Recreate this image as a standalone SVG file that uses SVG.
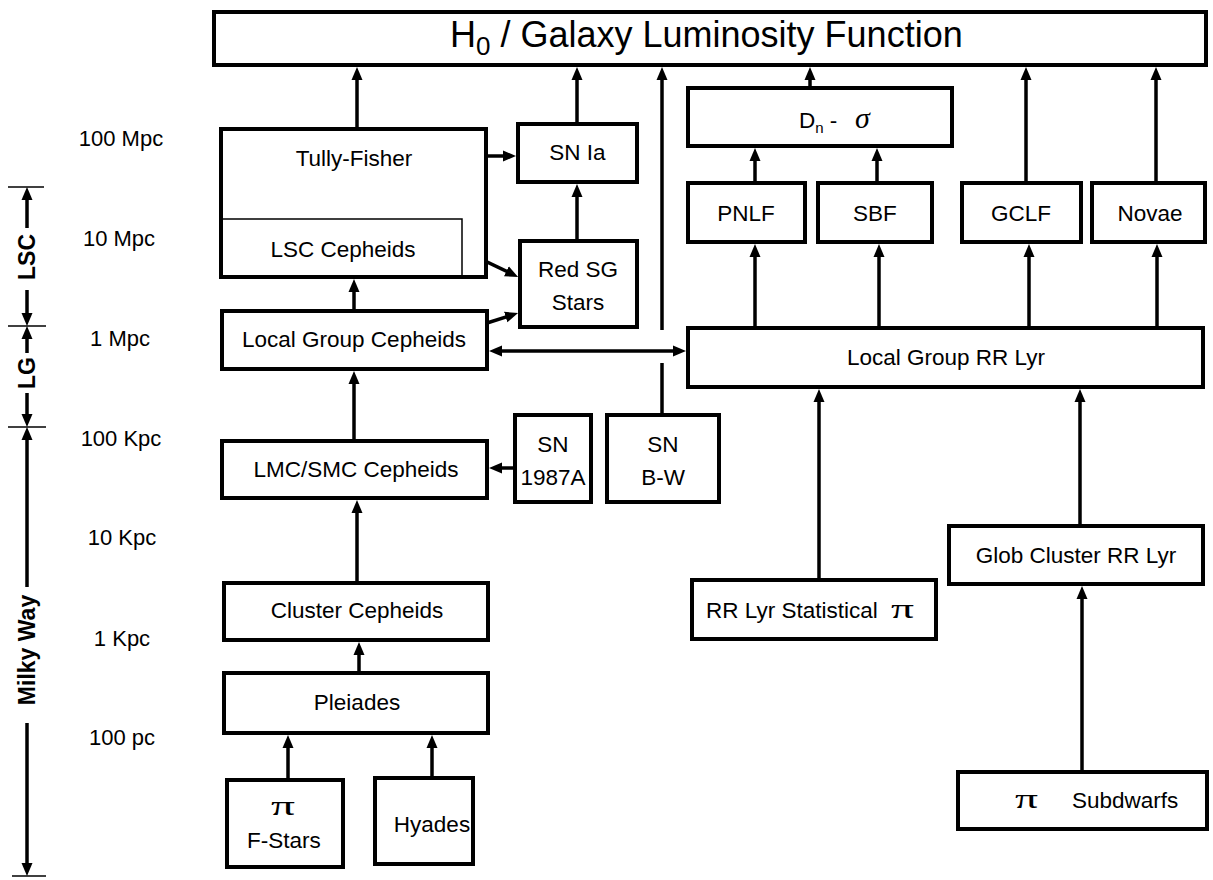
<svg xmlns="http://www.w3.org/2000/svg" width="1213" height="880" viewBox="0 0 1213 880">
<defs>
<style>
.box{fill:#fff;stroke:#000;stroke-width:4}
.thin{fill:none;stroke:#000;stroke-width:1.5}
.t{font-family:"Liberation Sans",Arial,sans-serif;font-size:22.5px;fill:#000;text-anchor:middle}
.ts{font-family:"Liberation Sans",Arial,sans-serif;font-size:22.5px;fill:#000}
.d{font-family:"Liberation Sans",Arial,sans-serif;font-size:22px;fill:#000;text-anchor:middle}
.ax{font-family:"Liberation Sans",Arial,sans-serif;font-size:23px;font-weight:bold;fill:#000;text-anchor:middle}
.pi{font-family:"Liberation Serif","Times New Roman",serif;font-style:normal;font-weight:normal;font-size:27px}
.sg{font-family:"Liberation Serif","Times New Roman",serif;font-style:italic;font-weight:normal;font-size:30px}
#connectors line{stroke:#000;stroke-width:3.5;fill:none}
.a{marker-end:url(#ah)}
.tick{stroke:#000;stroke-width:1.5}
</style>
<marker id="ah" markerUnits="userSpaceOnUse" markerWidth="14" markerHeight="12" refX="4" refY="6" orient="auto-start-reverse">
<path d="M0,0.5 L13,6 L0,11.5 z" fill="#000"/>
</marker>
</defs>
<rect width="1213" height="880" fill="#fff"/>

<g id="axis">
<line class="tick" x1="8" y1="187" x2="44" y2="187"/>
<line class="tick" x1="8" y1="326" x2="46" y2="326"/>
<line class="tick" x1="8" y1="427" x2="46" y2="427"/>
<line class="tick" x1="12" y1="876" x2="46" y2="876"/>
<g stroke="#000" stroke-width="3.5">
<line class="a" x1="27" y1="228" x2="27" y2="196"/>
<line class="a" x1="27" y1="290" x2="27" y2="317"/>
<line class="a" x1="27" y1="353" x2="27" y2="335"/>
<line class="a" x1="27" y1="393" x2="27" y2="418"/>
<line class="a" x1="27" y1="587" x2="27" y2="436"/>
<line class="a" x1="27" y1="723" x2="27" y2="867"/>
</g>
<text class="ax" x="35" y="257" transform="rotate(-90 35 257)">LSC</text>
<text class="ax" x="35" y="373" transform="rotate(-90 35 373)">LG</text>
<text class="ax" x="35" y="650" transform="rotate(-90 35 650)">Milky Way</text>
</g>

<g id="scale">
<text class="d" x="121" y="146">100 Mpc</text>
<text class="d" x="119" y="246">10 Mpc</text>
<text class="d" x="120" y="346">1 Mpc</text>
<text class="d" x="121" y="446">100 Kpc</text>
<text class="d" x="122" y="545">10 Kpc</text>
<text class="d" x="122" y="646">1 Kpc</text>
<text class="d" x="122" y="745">100 pc</text>
</g>

<g id="connectors">
<line class="a" x1="357" y1="129" x2="357" y2="76"/>
<line class="a" x1="577" y1="124" x2="577" y2="76"/>
<line x1="662" y1="415" x2="662" y2="363"/>
<line class="a" x1="662" y1="330" x2="662" y2="76"/>
<line class="a" x1="810" y1="88" x2="810" y2="76"/>
<line class="a" x1="1026" y1="183" x2="1026" y2="76"/>
<line class="a" x1="1156" y1="183" x2="1156" y2="76"/>
<line class="a" x1="486" y1="156" x2="507" y2="156"/>
<line class="a" x1="577" y1="241" x2="577" y2="193"/>
<line class="a" x1="462" y1="250" x2="510" y2="273"/>
<line class="a" x1="487" y1="323" x2="509.5" y2="315.8"/>
<line class="a" x1="354" y1="311" x2="354" y2="288"/>
<line class="a" x1="498" y1="351" x2="677" y2="351" marker-start="url(#ah)"/>
<line class="a" x1="354" y1="441" x2="354" y2="380"/>
<line class="a" x1="515" y1="468" x2="498" y2="468"/>
<line class="a" x1="357" y1="583" x2="357" y2="509"/>
<line class="a" x1="359" y1="673" x2="359" y2="651"/>
<line class="a" x1="288" y1="780" x2="288" y2="744"/>
<line class="a" x1="432" y1="778" x2="432" y2="744"/>
<line class="a" x1="755" y1="183" x2="755" y2="157"/>
<line class="a" x1="877" y1="183" x2="877" y2="157"/>
<line class="a" x1="755" y1="328" x2="755" y2="253"/>
<line class="a" x1="879" y1="328" x2="879" y2="253"/>
<line class="a" x1="1029" y1="328" x2="1029" y2="253"/>
<line class="a" x1="1157" y1="328" x2="1157" y2="253"/>
<line class="a" x1="819" y1="580" x2="819" y2="398"/>
<line class="a" x1="1080" y1="526" x2="1080" y2="398"/>
<line class="a" x1="1082" y1="772" x2="1082" y2="595"/>
</g>

<g id="h0">
<rect class="box" x="214" y="12" width="992" height="53"/>
<text class="ts" x="450" y="47" style="font-size:36px">H<tspan font-size="26" dy="8">0</tspan><tspan dy="-8"> / Galaxy Luminosity Function</tspan></text>
</g>
<g id="tully-fisher">
<rect class="box" x="221" y="129" width="265" height="148"/>
<text class="t" x="354" y="166">Tully-Fisher</text>
</g>
<g id="lsc-cepheids">
<path class="thin" d="M221,219 H462 V275"/>
<text class="t" x="343" y="257">LSC Cepheids</text>
</g>
<g id="sn-ia">
<rect class="box" x="518" y="124" width="119" height="58"/>
<text class="t" x="577.5" y="160">SN Ia</text>
</g>
<g id="red-sg">
<rect class="box" x="520" y="241" width="117" height="86"/>
<text class="t" x="578" y="277">Red SG</text>
<text class="t" x="578" y="310">Stars</text>
</g>
<g id="lg-cepheids">
<rect class="box" x="222" y="311" width="265" height="58"/>
<text class="t" x="354" y="347">Local Group Cepheids</text>
</g>
<g id="lmc-smc">
<rect class="box" x="222" y="441" width="265" height="57"/>
<text class="t" x="356" y="477">LMC/SMC Cepheids</text>
</g>
<g id="sn-1987a">
<rect class="box" x="515" y="415" width="76" height="87"/>
<text class="t" x="553" y="452">SN</text>
<text class="t" x="553" y="485">1987A</text>
</g>
<g id="sn-bw">
<rect class="box" x="607" y="415" width="112" height="87"/>
<text class="t" x="663" y="452">SN</text>
<text class="t" x="663" y="485">B-W</text>
</g>
<g id="cluster-cepheids">
<rect class="box" x="224" y="583" width="264" height="57"/>
<text class="t" x="357" y="618">Cluster Cepheids</text>
</g>
<g id="pleiades">
<rect class="box" x="224" y="673" width="264" height="60"/>
<text class="t" x="357" y="710">Pleiades</text>
</g>
<g id="f-stars">
<rect class="box" x="227" y="780" width="116" height="87"/>
<text class="pi" x="271" y="815" textLength="24" lengthAdjust="spacingAndGlyphs">π</text>
<text class="t" x="284" y="848">F-Stars</text>
</g>
<g id="hyades">
<rect class="box" x="375" y="778" width="98" height="86"/>
<text class="t" x="432" y="832">Hyades</text>
</g>
<g id="dn-sigma">
<rect class="box" x="688" y="88" width="264" height="58"/>
<text class="ts" x="799" y="128">D<tspan font-size="15" dy="5">n</tspan><tspan dy="-5"> -</tspan></text>
<text class="sg" x="855" y="128">σ</text>
</g>
<g id="pnlf">
<rect class="box" x="688" y="183" width="117" height="59"/>
<text class="t" x="746" y="221">PNLF</text>
</g>
<g id="sbf">
<rect class="box" x="818" y="183" width="114" height="59"/>
<text class="t" x="875" y="221">SBF</text>
</g>
<g id="gclf">
<rect class="box" x="962" y="183" width="119" height="59"/>
<text class="t" x="1021" y="221">GCLF</text>
</g>
<g id="novae">
<rect class="box" x="1092" y="183" width="113" height="59"/>
<text class="t" x="1150" y="221">Novae</text>
</g>
<g id="lg-rr-lyr">
<rect class="box" x="688" y="328" width="515" height="59"/>
<text class="t" x="946" y="365">Local Group RR Lyr</text>
</g>
<g id="rr-lyr-statistical">
<rect class="box" x="692" y="580" width="244" height="59"/>
<text class="ts" x="706" y="618">RR Lyr Statistical</text>
<text class="pi" x="891" y="618" textLength="23" lengthAdjust="spacingAndGlyphs">π</text>
</g>
<g id="glob-cluster">
<rect class="box" x="949" y="526" width="254" height="58"/>
<text class="t" x="1076" y="563">Glob Cluster RR Lyr</text>
</g>
<g id="subdwarfs">
<rect class="box" x="958" y="772" width="249" height="57"/>
<text class="pi" x="1015" y="808" textLength="23" lengthAdjust="spacingAndGlyphs">π</text>
<text class="ts" x="1072" y="808">Subdwarfs</text>
</g>
</svg>
